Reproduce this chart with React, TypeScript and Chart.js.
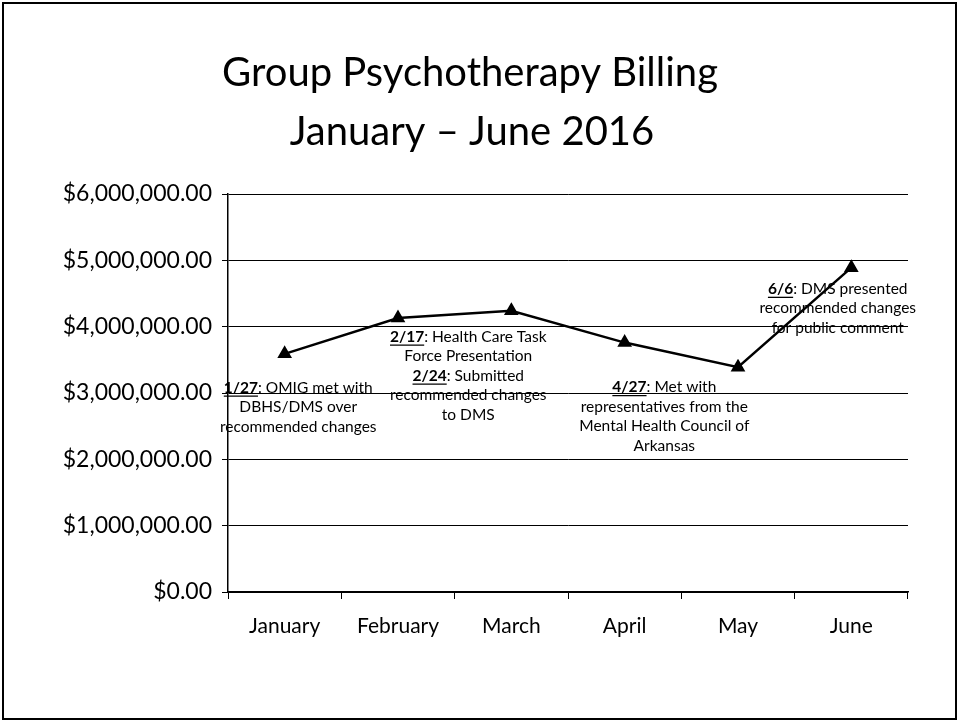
import React, { useEffect, useRef } from "react";
import { Chart, registerables } from "chart.js";

Chart.register(...registerables);

const titleLines = ["Group Psychotherapy Billing", "January \u2013 June 2016"];
const months = ["January", "February", "March", "April", "May", "June"];
const billing = [3590000, 4130000, 4240000, 3760000, 3390000, 4890000];
const yTicks = [0, 1000000, 2000000, 3000000, 4000000, 5000000, 6000000];

// annotation anchors in data units: x = category index (fractional), y = value of first text line
const noteX = [0.12, 1.62, 3.35, 4.88];
const noteY = [3080000, 3850000, 3090000, 4570000];
const noteLines: { t: string; u?: boolean }[][][] = [
  [
    [{ t: "1/27", u: true }, { t: ": OMIG met with" }],
    [{ t: "DBHS/DMS over" }],
    [{ t: "recommended changes" }],
  ],
  [
    [{ t: "2/17", u: true }, { t: ": Health Care Task" }],
    [{ t: "Force Presentation" }],
    [{ t: "2/24", u: true }, { t: ": Submitted" }],
    [{ t: "recommended changes" }],
    [{ t: "to DMS" }],
  ],
  [
    [{ t: "4/27", u: true }, { t: ": Met with" }],
    [{ t: "representatives from the" }],
    [{ t: "Mental Health Council of" }],
    [{ t: "Arkansas" }],
  ],
  [
    [{ t: "6/6", u: true }, { t: ": DMS presented" }],
    [{ t: "recommended changes" }],
    [{ t: "for public comment" }],
  ],
];

const FONT = "Lato, 'Open Sans', sans-serif";

const fmt = (v: number) =>
  "$" + v.toLocaleString("en-US", { minimumFractionDigits: 2, maximumFractionDigits: 2 });

const decorPlugin = {
  id: "decor",
  afterDraw(chart: any) {
    const ctx = chart.ctx as CanvasRenderingContext2D;
    const xs = chart.scales.x;
    const ys = chart.scales.y;
    ctx.save();
    // frame
    ctx.strokeStyle = "#000";
    ctx.lineWidth = 2;
    ctx.strokeRect(3, 3, chart.width - 6, chart.height - 5);
    // title
    ctx.fillStyle = "#000";
    ctx.textAlign = "center";
    ctx.textBaseline = "alphabetic";
    ctx.font = `40px ${FONT}`;
    ctx.fillText(titleLines[0], 470, 86);
    ctx.fillText(titleLines[1], 472, 145);
    // annotations
    const base = `15.5px ${FONT}`;
    const bold = `bold 15.5px ${FONT}`;
    ctx.textBaseline = "middle";
    ctx.textAlign = "left";
    ctx.lineWidth = 1.3;
    const lh = 19.5;
    noteLines.forEach((lines, i) => {
      const cx = xs.getPixelForValue(0) + (xs.getPixelForValue(1) - xs.getPixelForValue(0)) * noteX[i];
      const y0 = ys.getPixelForValue(noteY[i]);
      lines.forEach((segs, j) => {
        const y = y0 + j * lh;
        const widths = segs.map((g) => {
          ctx.font = g.u ? bold : base;
          return ctx.measureText(g.t).width;
        });
        const w = widths.reduce((s, v) => s + v, 0);
        let x = cx - w / 2;
        segs.forEach((g, k) => {
          ctx.font = g.u ? bold : base;
          ctx.fillText(g.t, x, y);
          if (g.u) {
            ctx.beginPath();
            ctx.moveTo(x, y + 8.5);
            ctx.lineTo(x + widths[k], y + 8.5);
            ctx.stroke();
          }
          x += widths[k];
        });
      });
    });
    ctx.restore();
  },
};

export default function App() {
  const ref = useRef<HTMLCanvasElement>(null);
  useEffect(() => {
    if (!ref.current) return;
    const chart = new Chart(ref.current, {
      type: "line",
      data: {
        labels: months,
        datasets: [
          {
            data: billing,
            borderColor: "#000",
            backgroundColor: "#000",
            borderWidth: 2.5,
            pointStyle: "triangle",
            pointRadius: 6,
            pointBackgroundColor: "#000",
            pointBorderColor: "#000",
            tension: 0,
          },
        ],
      },
      options: {
        responsive: false,
        animation: false,
        layout: { padding: { top: 194, left: 0, right: 51, bottom: 60 } },
        plugins: { legend: { display: false }, tooltip: { enabled: false }, title: { display: false } },
        scales: {
          x: {
            type: "category",
            offset: true,
            border: { color: "#000", width: 1.5 },
            grid: { offset: true, drawOnChartArea: false, drawTicks: true, tickLength: 7, color: "#000" },
            ticks: { color: "#000", font: { family: FONT, size: 21 }, padding: 15 },
            afterFit: (s: any) => {
              s.height = 69;
            },
          },
          y: {
            min: 0,
            max: 6000000,
            afterBuildTicks: (s: any) => {
              s.ticks = yTicks.map((v) => ({ value: v }));
            },
            border: { color: "#000", width: 1.5 },
            grid: { color: "#000", lineWidth: 1, drawTicks: true, tickLength: 6 },
            ticks: {
              color: "#000",
              font: { family: FONT, size: 23 },
              padding: 10,
              callback: (v: any) => fmt(Number(v)),
            },
            afterFit: (s: any) => {
              s.width = 228;
            },
          },
        },
      },
      plugins: [decorPlugin],
    });
    return () => chart.destroy();
  }, []);
  return (
    <div style={{ position: "absolute", left: 0, top: 0, width: 959, height: 721, background: "#fff" }}>
      <canvas ref={ref} width={959} height={721} style={{ width: 959, height: 721 }} />
    </div>
  );
}
